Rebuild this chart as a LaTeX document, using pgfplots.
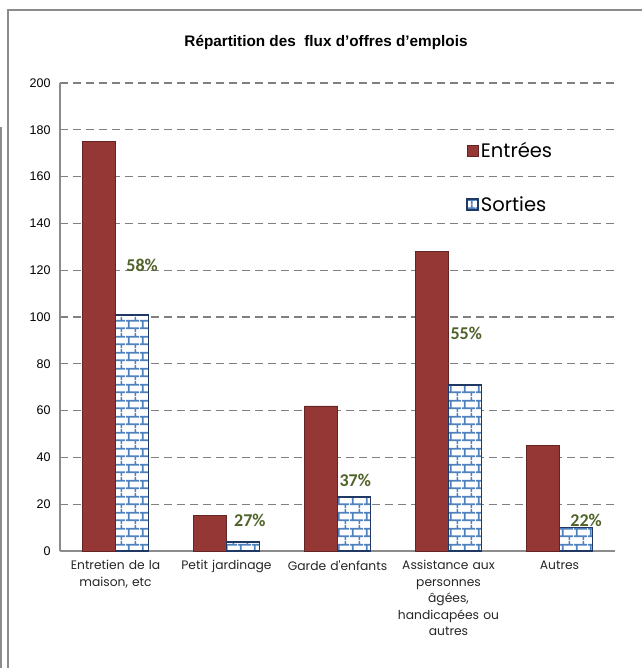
\documentclass[border=0pt]{standalone}
\usepackage{pgfplots}
\pgfplotsset{compat=1.18}
\usepackage{fontspec}
\setmainfont{Liberation Sans}
\newfontfamily\gothic{Poppins}
\newfontfamily\calib{Carlito}
\usetikzlibrary{patterns.meta}

\definecolor{redbar}{HTML}{953735}
\definecolor{redline}{HTML}{632523}
\definecolor{navy}{HTML}{1F3864}
\definecolor{brick}{HTML}{4F81BD}
\definecolor{olive}{HTML}{4F6228}
\definecolor{framegray}{HTML}{8C8C8C}

\tikzdeclarepattern{
  name=bricksx,
  type=uncolored,
  bottom left={(0pt,0pt)},
  top right={(14pt,16pt)},
  tile size={(14pt,16pt)},
  code={
    \pgfsetlinewidth{1.8pt}
    \pgfpathmoveto{\pgfqpoint{0pt}{4pt}}\pgfpathlineto{\pgfqpoint{14pt}{4pt}}
    \pgfpathmoveto{\pgfqpoint{0pt}{12pt}}\pgfpathlineto{\pgfqpoint{14pt}{12pt}}
    \pgfpathmoveto{\pgfqpoint{3pt}{4pt}}\pgfpathlineto{\pgfqpoint{3pt}{12pt}}
    \pgfpathmoveto{\pgfqpoint{10pt}{12pt}}\pgfpathlineto{\pgfqpoint{10pt}{16pt}}
    \pgfpathmoveto{\pgfqpoint{10pt}{0pt}}\pgfpathlineto{\pgfqpoint{10pt}{4pt}}
    \pgfusepath{stroke}
  }
}

\begin{document}
\begin{tikzpicture}
\useasboundingbox (0pt,0pt) rectangle (642pt,668pt);
% frame
\draw[framegray, line width=1.5pt] (8pt,0pt) -- (8pt,658pt) -- (642pt,658pt);
\draw[framegray, line width=1.5pt] (1pt,0pt) -- (1pt,541pt);
\node[font=\bfseries\fontsize{15.3}{18}\selectfont] at (326pt,626pt)
  {Répartition des\ \ flux d'offres d'emplois};

\begin{axis}[
  at={(60pt,117pt)}, anchor=south west,
  scale only axis, width=555pt, height=468pt,
  ybar=0pt, bar width=33pt,
  xmin=-0.5, xmax=4.5,
  ymin=0, ymax=200,
  ytick={0,20,...,200},
  xtick=data,
  xticklabels={{Entretien de la\\maison, etc},{Petit jardinage},{Garde d'enfants},
    {Assistance aux\\personnes\\âgées,\\handicapées ou\\autres},{Autres}},
  x tick label style={font=\gothic\fontsize{12.3}{16.5}\selectfont, align=center,
    text=black!85, text width=104pt, yshift=-6pt},
  y tick label style={font=\fontsize{12.5}{14}\selectfont, xshift=-6pt},
  /pgf/number format/assume math mode=true,
  major tick length=0pt,
  axis x line*=bottom, axis y line*=left,
  axis line style={framegray, line width=1.2pt, -},
  ymajorgrids, grid style={dashed, black!50, line width=1.1pt, dash pattern=on 8pt off 5pt},
  legend style={at={(0.726,0.882)}, anchor=north west, draw=none, fill=none,
    font=\gothic\fontsize{19.5}{22}\selectfont, row sep=33pt},
  legend cell align=left,
  legend image code/.code={\draw[#1] (0pt,-5.5pt) rectangle (11pt,5.5pt);},
  clip=false,
]
\addplot[fill=redbar, draw=redline, line width=0.8pt] coordinates {(0,175) (1,15) (2,62) (3,128) (4,45)};
\addplot[fill=white, draw=navy, line width=1.8pt, postaction={pattern=bricksx, pattern color=brick}]
  coordinates {(0,101) (1,4) (2,23) (3,71) (4,10)};
\legend{Entrées,Sorties}
\begin{scope}[every node/.style={font=\calib\bfseries\fontsize{18}{20}\selectfont, text=olive}]
\node at (axis cs:0.24,122) {58\%};
\node at (axis cs:1.21,13) {27\%};
\node at (axis cs:2.16,30) {37\%};
\node at (axis cs:3.16,93) {55\%};
\node at (axis cs:4.24,13) {22\%};
\end{scope}
\end{axis}
\end{tikzpicture}
\end{document}
